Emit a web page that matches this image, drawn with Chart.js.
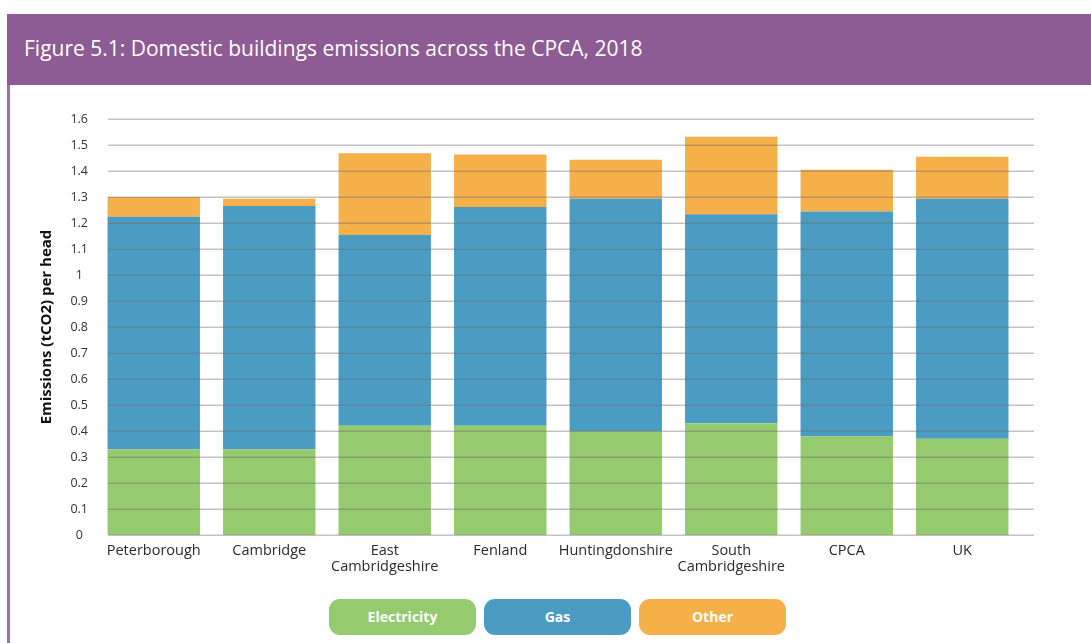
<!DOCTYPE html>
<html>
<head>
<meta charset="utf-8">
<script src="https://cdn.jsdelivr.net/npm/chart.js@4.4.1/dist/chart.umd.min.js"></script>
<style>
  html, body { margin: 0; padding: 0; background: #fff; width: 1091px; height: 643px; overflow: hidden; font-family: "Open Sans", sans-serif; }
  #title-bar {
    position: absolute; left: 7px; top: 14px; width: 1084px; height: 71px;
    background: #8e5c94; color: #fff;
    font-size: 21px; line-height: 69px; padding-left: 17px; box-sizing: border-box;
  }
  #left-rule { position: absolute; left: 7px; top: 85px; width: 3px; height: 558px; background: #9d72a5; }
  #chart-box { position: absolute; left: 0; top: 100px; width: 1091px; height: 480px; }
  #legend { position: absolute; top: 599px; left: 329px; display: flex; gap: 8px; }
  .pill {
    width: 147px; height: 36px; border-radius: 11px; color: #fff;
    font-weight: 700; font-size: 14px; text-align: center; line-height: 36px;
  }
</style>
</head>
<body>
<div id="title-bar">Figure 5.1: Domestic buildings emissions across the CPCA, 2018</div>
<div id="left-rule"></div>
<div id="chart-box"><canvas id="emissionsChart"></canvas></div>
<div id="legend"></div>

<script>
// --- Domestic buildings emissions per head, 2018 ---

const areas = ['Peterborough', 'Cambridge', ['East', 'Cambridgeshire'], 'Fenland', 'Huntingdonshire', ['South', 'Cambridgeshire'], 'CPCA', 'UK'];
const electricity = [0.33, 0.33, 0.42, 0.42, 0.40, 0.43, 0.38, 0.37];
const gas = [0.894, 0.935, 0.734, 0.842, 0.893, 0.804, 0.864, 0.923];
const other = [0.076, 0.028, 0.314, 0.201, 0.150, 0.298, 0.161, 0.162];
const yTicks = [0, 0.1, 0.2, 0.3, 0.4, 0.5, 0.6, 0.7, 0.8, 0.9, 1, 1.1, 1.2, 1.3, 1.4, 1.5, 1.6];

const seriesColors = { Electricity: '#96ca6e', Gas: '#4b9cc2', Other: '#f5b04a' };

// gridlines sit on top of the bars and run a little wider than the bar band
const gridOverlay = {
  id: 'gridOverlay',
  afterDatasetsDraw(chart) {
    const ctx = chart.ctx;
    const y = chart.scales.y;
    ctx.save();
    ctx.lineWidth = 1.5;
    ctx.strokeStyle = 'rgba(110,110,110,0.42)';
    yTicks.forEach(v => {
      const py = Math.round(y.getPixelForValue(v)) + 0.25;
      ctx.beginPath();
      ctx.moveTo(108, py);
      ctx.lineTo(1034, py);
      ctx.stroke();
    });
    ctx.restore();
  }
};

const canvas = document.getElementById('emissionsChart');
const emissionsChart = new Chart(canvas, {
  type: 'bar',
  data: {
    labels: areas,
    datasets: [
      { label: 'Electricity', data: electricity, backgroundColor: seriesColors.Electricity },
      { label: 'Gas', data: gas, backgroundColor: seriesColors.Gas },
      { label: 'Other', data: other, backgroundColor: seriesColors.Other }
    ]
  },
  options: {
    responsive: true,
    maintainAspectRatio: false,
    animation: false,
    layout: { padding: { left: 34, right: 71, top: 19, bottom: 0 } },
    datasets: { bar: { barPercentage: 0.8, categoryPercentage: 1.0 } },
    plugins: {
      legend: { display: false },
      tooltip: { enabled: false }
    },
    scales: {
      x: {
        stacked: true,
        grid: { display: false },
        border: { display: false },
        ticks: {
          color: '#2b2b2b', padding: 0, maxRotation: 0, autoSkip: false,
          font: { family: 'Open Sans', size: 14.5, lineHeight: 1.1 }
        },
        afterFit(scale) { scale.height = 45; }
      },
      y: {
        stacked: true,
        min: 0,
        max: 1.6,
        grid: { display: false },
        border: { display: false },
        afterBuildTicks(scale) { scale.ticks = yTicks.map(v => ({ value: v })); },
        ticks: {
          color: '#333', padding: 0, crossAlign: 'center',
          font: { family: 'Open Sans', size: 12.5 },
          callback: v => String(Math.round(v * 10) / 10)
        },
        title: {
          display: true,
          text: 'Emissions (tCO2) per head',
          color: '#111',
          padding: { top: 4, bottom: 0 },
          font: { family: 'Open Sans', size: 15, weight: 'bold' }
        },
        afterFit(scale) { scale.width = 62; }
      }
    }
  },
  plugins: [gridOverlay]
});

// legend pills built from the chart's own datasets
const legendEl = document.getElementById('legend');
emissionsChart.data.datasets.forEach(ds => {
  const pill = document.createElement('div');
  pill.className = 'pill';
  pill.style.background = ds.backgroundColor;
  pill.innerText = ds.label;
  legendEl.appendChild(pill);
});
</script>
</body>
</html>
